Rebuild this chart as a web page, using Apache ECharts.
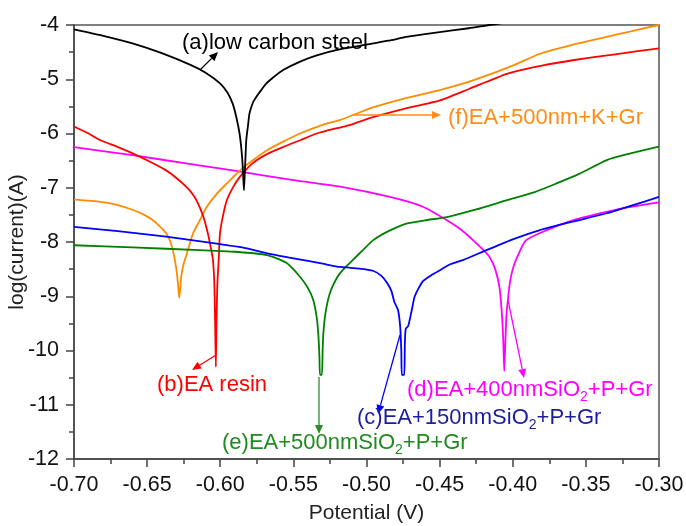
<!DOCTYPE html>
<html><head><meta charset="utf-8">
<script src="https://cdn.jsdelivr.net/npm/echarts@6/dist/echarts.min.js"></script>
<style>html,body{margin:0;padding:0;background:#fff}#c{width:686px;height:526px}</style>
</head><body><div id="c"></div>
<script>
// ---- data (Potential V, log(current) A) ----
const xTicks = [-0.70,-0.65,-0.60,-0.55,-0.50,-0.45,-0.40,-0.35,-0.30];
const yTicks = [-12,-11,-10,-9,-8,-7,-6,-5,-4];

const aX = [-0.70,-0.68,-0.66,-0.64,-0.62,-0.61,-0.60,-0.595,-0.5915,-0.589,-0.5868,-0.5855,-0.5846,-0.5838,-0.5830,-0.5822,-0.581,-0.580,-0.5775,-0.5755,-0.572,-0.5686,-0.563,-0.557,-0.545,-0.534,-0.52,-0.50,-0.485,-0.4728,-0.46,-0.45,-0.43,-0.416,-0.40];
const aY = [-4.08,-4.20,-4.34,-4.52,-4.74,-4.88,-5.08,-5.25,-5.45,-5.70,-6.00,-6.30,-6.62,-7.05,-6.60,-6.12,-5.85,-5.63,-5.42,-5.33,-5.20,-5.08,-4.95,-4.83,-4.67,-4.56,-4.46,-4.36,-4.29,-4.22,-4.17,-4.13,-4.06,-4.00,-3.94];

const bX = [-0.70,-0.69,-0.6822,-0.67,-0.6596,-0.648,-0.637,-0.63,-0.623,-0.618,-0.614,-0.611,-0.6085,-0.6065,-0.605,-0.604,-0.6035,-0.6030,-0.6025,-0.6020,-0.6010,-0.6002,-0.598,-0.5955,-0.591,-0.5866,-0.578,-0.568,-0.557,-0.545,-0.534,-0.52,-0.511,-0.4956,-0.475,-0.4498,-0.43,-0.404,-0.38,-0.359,-0.33,-0.30];
const bY = [-5.87,-6.00,-6.12,-6.25,-6.37,-6.52,-6.68,-6.82,-6.99,-7.15,-7.36,-7.58,-7.84,-8.10,-8.33,-8.80,-9.50,-10.30,-9.40,-8.80,-8.30,-7.84,-7.50,-7.23,-6.98,-6.80,-6.55,-6.38,-6.25,-6.12,-6.00,-5.90,-5.84,-5.70,-5.55,-5.39,-5.18,-4.90,-4.75,-4.65,-4.54,-4.43];

const cX = [-0.70,-0.67,-0.637,-0.6023,-0.585,-0.568,-0.55,-0.53,-0.518,-0.505,-0.4956,-0.49,-0.486,-0.483,-0.481,-0.4785,-0.477,-0.4762,-0.4758,-0.4742,-0.4738,-0.4732,-0.4715,-0.469,-0.467,-0.4614,-0.455,-0.4498,-0.4434,-0.4337,-0.418,-0.40,-0.3814,-0.36,-0.3357,-0.32,-0.30];
const cY = [-7.72,-7.80,-7.90,-8.03,-8.10,-8.21,-8.30,-8.40,-8.46,-8.49,-8.53,-8.62,-8.75,-8.90,-9.10,-9.25,-9.55,-10.00,-10.45,-10.45,-9.90,-9.60,-9.55,-9.25,-9.00,-8.72,-8.60,-8.52,-8.42,-8.33,-8.15,-7.95,-7.78,-7.63,-7.47,-7.34,-7.17];

const dX = [-0.70,-0.66,-0.6235,-0.5915,-0.55,-0.518,-0.484,-0.4614,-0.445,-0.435,-0.427,-0.42,-0.416,-0.412,-0.409,-0.4075,-0.4065,-0.4058,-0.405,-0.4042,-0.4033,-0.402,-0.40,-0.397,-0.391,-0.3767,-0.359,-0.34,-0.325,-0.30];
const dY = [-6.25,-6.40,-6.55,-6.68,-6.86,-6.98,-7.17,-7.35,-7.60,-7.78,-7.97,-8.15,-8.27,-8.50,-8.85,-9.30,-9.80,-10.38,-9.80,-9.30,-9.07,-8.76,-8.50,-8.28,-7.97,-7.78,-7.60,-7.47,-7.38,-7.27];

const eX = [-0.70,-0.66,-0.614,-0.59,-0.568,-0.555,-0.5455,-0.54,-0.5364,-0.534,-0.533,-0.5322,-0.5318,-0.5305,-0.5300,-0.5295,-0.528,-0.525,-0.52,-0.516,-0.5093,-0.5025,-0.4956,-0.485,-0.4728,-0.46,-0.445,-0.425,-0.404,-0.385,-0.37,-0.355,-0.3357,-0.32,-0.30];
const eY = [-8.06,-8.10,-8.15,-8.18,-8.24,-8.38,-8.64,-8.85,-9.07,-9.40,-9.68,-10.10,-10.45,-10.45,-10.00,-9.68,-9.30,-8.94,-8.65,-8.51,-8.33,-8.15,-7.97,-7.80,-7.66,-7.60,-7.54,-7.40,-7.23,-7.08,-6.92,-6.75,-6.49,-6.37,-6.24];

const fX = [-0.70,-0.682,-0.67,-0.6596,-0.652,-0.646,-0.641,-0.637,-0.634,-0.632,-0.630,-0.6288,-0.628,-0.6272,-0.6265,-0.625,-0.6228,-0.6205,-0.6186,-0.614,-0.6094,-0.603,-0.5955,-0.59,-0.584,-0.576,-0.568,-0.557,-0.5455,-0.53,-0.518,-0.4956,-0.475,-0.45,-0.4272,-0.40,-0.3814,-0.36,-0.3357,-0.32,-0.30];
const fY = [-7.22,-7.26,-7.32,-7.41,-7.50,-7.60,-7.72,-7.84,-8.00,-8.20,-8.50,-8.80,-9.03,-8.80,-8.60,-8.40,-8.21,-8.00,-7.84,-7.60,-7.36,-7.13,-6.92,-6.77,-6.62,-6.46,-6.31,-6.15,-6.00,-5.84,-5.75,-5.52,-5.36,-5.20,-5.02,-4.75,-4.53,-4.37,-4.22,-4.12,-4.00];

const names = ['(a)low carbon steel','(b)EA resin','(c)EA+150nmSiO2+P+Gr','(d)EA+400nmSiO2+P+Gr','(e)EA+500nmSiO2+P+Gr','(f)EA+500nm+K+Gr'];
const lineColors = ['#000000','#ff0000','#0000ff','#ff00ff','#008000','#ff8c00'];

const zip = (xs, ys) => xs.map((x, i) => [x, ys[i]]);
const seriesData = [zip(aX,aY), zip(bX,bY), zip(cX,cY), zip(dX,dY), zip(eX,eY), zip(fX,fY)];

const FONT = '"Liberation Sans", Arial, sans-serif';
const chart = echarts.init(document.getElementById('c'), null, {renderer: 'canvas'});

const order = [3,5,1,4,2,0];
const series = order.map(i => ({
  name: names[i], type: 'line', data: seriesData[i], showSymbol: false, symbol: 'none',
  smooth: 0.2, clip: true,
  lineStyle: {color: lineColors[i], width: 1.8, join: 'round'}, z: 3
}));

chart.setOption({
  animation: false,
  backgroundColor: '#fff',
  grid: {left: 74, right: 27, top: 25, bottom: 67, outerBoundsMode: 'none', containLabel: false,
         show: true, borderColor: '#555', borderWidth: 1.5, backgroundColor: 'transparent'},
  xAxis: {
    type: 'value', min: -0.7, max: -0.3, interval: 0.05,
    name: 'Potential (V)', nameLocation: 'middle', nameGap: 44, nameMoveOverlap: false,
    nameTextStyle: {fontFamily: FONT, fontSize: 21, color: '#222'},
    axisLine: {show: true, onZero: false, lineStyle: {color: '#444', width: 1.5}},
    axisTick: {show: true, inside: false, length: 8, lineStyle: {color: '#444', width: 1.5}},
    minorTick: {show: true, splitNumber: 2, length: 5, lineStyle: {color: '#444', width: 1.5}},
    splitLine: {show: false},
    axisLabel: {fontFamily: FONT, fontSize: 21.5, color: '#111', margin: 15, formatter: v => v.toFixed(2)}
  },
  yAxis: {
    type: 'value', min: -12, max: -4, interval: 1,
    name: 'log(current)(A)', nameLocation: 'middle', nameGap: 46, nameMoveOverlap: false,
    nameTextStyle: {fontFamily: FONT, fontSize: 21, color: '#222'},
    axisLine: {show: true, onZero: false, lineStyle: {color: '#444', width: 1.5}},
    axisTick: {show: true, inside: false, length: 8, lineStyle: {color: '#444', width: 1.5}},
    minorTick: {show: true, splitNumber: 2, length: 5, lineStyle: {color: '#444', width: 1.5}},
    splitLine: {show: false},
    axisLabel: {fontFamily: FONT, fontSize: 21.5, color: '#111', margin: 15, formatter: v => String(v)}
  },
  series: series
});

// ---- annotations ----
function arrow(x1, y1, x2, y2, color) {
  const ang = Math.atan2(y2 - y1, x2 - x1);
  const L = 9, W = 4;
  const bx = x2 - L * Math.cos(ang), by = y2 - L * Math.sin(ang);
  const px = -Math.sin(ang) * W, py = Math.cos(ang) * W;
  return [
    {type: 'line', shape: {x1: x1, y1: y1, x2: bx, y2: by}, style: {stroke: color, lineWidth: 1.3}, z: 10},
    {type: 'polygon', shape: {points: [[x2, y2], [bx + px, by + py], [bx - px, by - py]]}, style: {fill: color}, z: 10}
  ];
}
function label(x, y, text, color) {
  return {type: 'text', x: x, y: y, z: 11, style: {
    text: text, fill: color, font: '22px ' + FONT, textVerticalAlign: 'middle', textAlign: 'left',
    rich: {
      n: {fontSize: 22, fontFamily: FONT, fill: color, lineHeight: 26},
      s: {fontSize: 14, fontFamily: FONT, fill: color, lineHeight: 26, padding: [14, 0, 0, 0]}
    }
  }};
}
const sub = t => '{n|' + t.replace('SiO2', 'SiO}{s|2}{n|') + '}';
const graphics = [].concat(
  arrow(200, 70, 218, 52, '#000'),
  arrow(353, 115, 441, 115, '#ff8c1a'),
  arrow(216, 355, 192, 370, '#ff0000'),
  arrow(319, 377, 319, 434, '#2e8b2e'),
  arrow(400, 335, 378, 414, '#0000ff'),
  arrow(508, 300, 524, 378, '#ff00ff'),
  [
    label(182, 43, '{n|' + names[0] + '}', '#000'),
    label(448, 118, '{n|' + names[5] + '}', '#ff8c1a'),
    label(157, 385, '{n|' + names[1] + '}', '#ff0000'),
    label(222, 443, sub(names[4]), '#1f8a1f'),
    label(357, 418, sub(names[2]), '#1c1ca0'),
    label(407, 390, sub(names[3]), '#ff00ff')
  ]
);
chart.setOption({graphic: graphics});
</script>
</body></html>
